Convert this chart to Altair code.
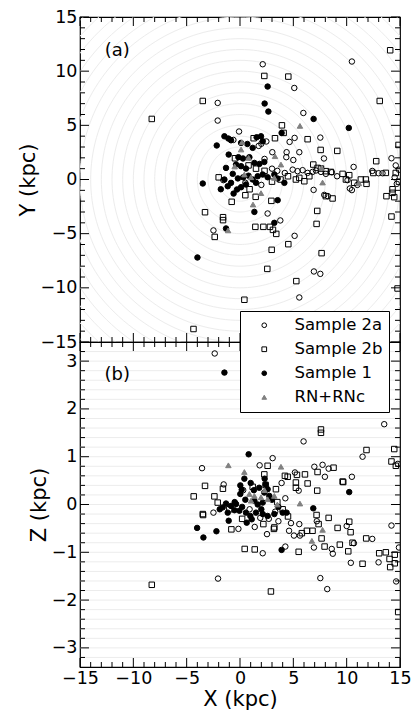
import altair as alt
import numpy as np
import pandas as pd

FONT = "DejaVu Sans"
W, H = 320, 325
XMIN, XMAX = -15, 15
YMIN, YMAX = -15, 15
ZMIN, ZMAX = -3.4, 3.4

SERIES = ["Sample 2a", "Sample 2b", "Sample 1", "RN+RNc"]

# ---------------- panel (a): (X, Y) in kpc ----------------
s2a_xy = [(2.13, 10.64), (10.49, 10.89), (5.09, 8.45), (-2.09, 7.07), (-2.09, 5.44), (5.94, 6.14),
          (-0.09, 4.43), (5.12, 3.84), (7.53, 3.87), (4.65, 3.47), (2.47, 3.51), (2.0, 3.3),
          (1.75, 3.1), (-0.62, 3.65), (5.56, 2.52), (4.37, 2.52), (4.34, 2.06), (3.03, 2.52),
          (7.87, 1.94), (14.2, 1.96), (10.65, 1.16), (12.4, 0.79), (12.99, 0.58), (13.36, 0.58),
          (5.0, 1.8), (4.94, 0.91), (5.4, 0.77), (5.87, 0.86), (6.34, 0.61), (6.8, 0.7),
          (7.12, 0.83), (7.59, 0.7), (8.05, 0.52), (8.61, 0.67), (3.5, 0.8), (4.2, 0.6),
          (3.0, 1.0), (10.08, -0.06), (10.3, -0.83), (10.49, -0.98), (6.9, -0.96), (7.9, -1.42),
          (8.24, -1.54), (14.5, 0.2), (14.7, -0.4), (14.9, 0.9), (14.6, 1.3), (-1.56, -0.06),
          (0.5, -0.3), (2.0, -0.5), (2.59, -3.14), (3.78, -3.78), (-2.49, -4.7), (5.12, -5.2),
          (6.93, -8.49), (7.53, -8.71), (5.56, -10.89), (2.3, 1.9), (9.1, 0.3), (11.0, -0.5)]

s2b_xy = [(14.08, 11.93), (2.28, 9.56), (4.53, 9.5), (-3.49, 7.25), (13.1, 7.25), (-8.27, 5.59),
          (3.93, 5.0), (4.09, 4.3), (1.28, 3.81), (3.28, 3.81), (6.34, 3.72), (7.56, 2.73),
          (9.12, 2.64), (12.77, 1.69), (14.86, 3.19), (-0.47, 1.96), (6.87, 1.38), (0.8, 1.3),
          (-2.0, 0.2), (7.27, 1.07), (7.59, 1.01), (8.05, 0.77), (8.52, 0.7), (9.62, 0.52),
          (10.24, 0.4), (9.93, 0.0), (11.33, 0.0), (11.8, 0.0), (11.86, -0.4), (5.24, 0.0),
          (5.56, 0.15), (6.03, -0.16), (6.5, 0.3), (4.5, 0.3), (3.8, 0.0), (3.0, -0.2),
          (2.3, 0.8), (13.67, 0.61), (14.6, 0.6), (14.3, -0.9), (14.9, -0.2), (8.05, -1.54),
          (8.68, -1.75), (13.73, -1.54), (14.3, -1.23), (14.46, -1.63), (14.2, -3.42), (14.77, -10.06),
          (0.5, -1.45), (1.47, -1.6), (-0.78, -2.06), (2.94, -1.97), (-3.28, -3.02), (-1.59, -3.48),
          (-1.59, -3.75), (-2.37, -5.3), (1.44, -4.37), (2.19, -4.37), (2.81, -4.37), (3.09, -4.65),
          (3.4, -5.02), (4.53, -5.97), (2.97, -6.49), (7.65, -6.8), (7.24, -2.9), (7.18, -4.1),
          (2.56, -8.25), (5.28, -9.38), (0.41, -11.1), (-4.36, -13.8), (0.9, -0.9), (1.5, 1.0),
          (10.7, -0.3), (12.5, 0.6)]

s1_xy = [(2.59, 8.58), (2.31, 7.01), (2.66, 6.27), (6.9, 5.59), (10.2, 4.76), (3.9, 4.3),
         (-1.46, 3.99), (-1.09, 3.78), (-0.84, 3.62), (-2.18, 3.14), (0.1, 3.38), (0.69, 3.28),
         (1.56, 3.9), (1.97, 3.99), (2.13, 3.53), (1.19, 2.92), (-1.06, 2.3), (-0.15, 2.06),
         (0.28, 1.94), (0.88, 2.06), (1.35, 1.53), (1.82, 1.44), (2.28, 1.62), (-0.37, 1.38),
         (0.1, 1.23), (0.56, 1.01), (-1.31, 1.07), (-0.68, 0.52), (-1.46, 0.0), (-1.15, -0.62),
         (-0.84, -0.31), (-0.28, -0.92), (0.1, -0.71), (0.56, -0.46), (1.19, 0.0), (1.66, 0.3),
         (2.13, 0.46), (2.59, 0.21), (3.22, 0.46), (3.53, 0.09), (4.16, -0.31), (0.3, 0.2),
         (0.8, 0.35), (-0.2, 0.1), (1.5, -0.3), (-1.8, -0.9), (-0.6, -1.3), (-3.49, -0.37),
         (1.35, -2.99), (3.53, -1.91), (3.22, -4.0), (-1.31, -4.52), (-3.99, -7.2)]

rn_xy = [(5.62, 4.95), (0.19, 3.44), (0.1, 2.77), (0.81, 2.0), (3.28, 2.15), (3.84, 1.38),
         (0.41, 0.46), (1.03, 0.21), (3.22, 0.15), (7.74, -0.28), (11.15, -0.35), (1.97, -1.26),
         (1.22, -2.31), (-1.12, -4.7), (7.65, 1.07), (-0.5, 1.2)]

# ---------------- panel (b): (X, Z) in kpc ----------------
s2a_xz = [(-2.37, 3.16), (13.52, 1.68), (5.96, 1.32), (3.06, 0.97), (11.49, 1.0), (-3.56, 0.76),
          (1.84, 0.82), (6.97, 0.79), (7.74, 0.83), (8.31, 0.75), (7.96, 0.58), (10.49, 0.58),
          (14.8, 0.85), (-1.53, 0.42), (4.25, 0.13), (5.15, 0.67), (5.5, 0.29), (-2.49, -0.17),
          (-2.06, -1.55), (7.53, -1.54), (8.18, -1.77), (14.64, -1.61), (2.13, -1.02), (4.25, -0.88),
          (8.6, -0.93), (8.7, -1.03), (10.39, -1.22), (12.99, -1.21), (12.4, -0.72), (14.2, -0.44),
          (6.93, -0.9), (-0.15, -0.51), (1.38, -0.47), (2.53, -0.62), (4.78, -0.39), (5.56, -0.41),
          (5.06, -0.65), (5.62, -0.65), (10.68, -0.81), (10.0, -0.45), (3.6, -0.35), (3.3, -0.15),
          (2.7, -0.3), (1.9, -0.28), (0.9, -0.1), (4.6, -0.55), (7.2, -0.35), (14.9, -0.9),
          (0.3, 0.3), (3.9, 0.45)]

s2b_xz = [(7.59, 1.57), (7.59, 1.5), (11.86, 1.14), (14.46, 1.16), (14.2, 0.9), (14.61, 0.81),
          (8.77, 0.77), (2.59, 0.81), (5.34, 0.62), (6.09, 0.63), (6.34, 0.44), (9.68, 0.47),
          (7.24, 0.29), (-3.28, 0.39), (-4.34, 0.17), (-1.6, 0.33), (-3.49, -0.2), (2.28, 0.63),
          (2.4, 0.41), (3.37, 0.32), (4.21, 0.6), (-2.4, 0.17), (-2.09, 0.04), (1.19, 0.37),
          (4.47, 0.58), (5.24, 0.46), (5.24, 0.35), (7.27, 0.68), (9.62, 0.48), (-8.27, -1.68),
          (2.9, -1.82), (0.44, -0.93), (1.38, -0.94), (5.5, -0.99), (-0.81, -0.52), (-3.46, -0.22),
          (2.19, -0.41), (3.18, -0.51), (7.18, -0.22), (7.37, -0.41), (7.65, -0.71), (7.93, -0.88),
          (8.31, -0.28), (9.15, -0.49), (9.36, -0.84), (10.15, -0.98), (10.24, -0.36), (10.37, -0.58),
          (10.55, -0.8), (11.49, -1.24), (11.83, -0.71), (13.05, -1.02), (13.67, -1.0), (14.08, -1.31),
          (14.51, -1.05), (14.02, -1.14), (14.51, -1.23), (14.83, -2.25), (6.27, -0.55), (6.8, -0.55),
          (3.22, -0.48), (4.5, -0.25), (4.0, -0.1), (5.8, -0.6), (-1.0, -0.1), (0.2, -0.3),
          (3.5, 0.05)]

s1_xz = [(-1.46, 2.76), (0.81, 1.05), (10.24, 0.26), (0.41, 0.54), (2.31, 0.54), (0.03, 0.4),
         (0.16, 0.31), (0.03, 0.22), (2.59, 0.32), (2.28, 0.25), (2.75, 0.18), (1.35, 0.08),
         (1.66, 0.0), (2.13, 0.04), (-1.31, 0.02), (-0.84, -0.03), (-0.37, 0.01), (-1.62, -0.06),
         (-1.15, -0.17), (-0.52, -0.12), (-0.06, -0.13), (0.56, -0.17), (0.97, -0.24), (1.5, -0.17),
         (2.13, -0.2), (2.59, -0.24), (3.22, -0.2), (4.0, -0.17), (-4.02, -0.49), (-2.21, -0.56),
         (-3.43, -0.69), (-1.06, -0.34), (0.63, -0.38), (1.1, -0.31), (6.87, -0.08), (3.9, -0.95),
         (4.37, -0.17), (1.3, 0.3), (0.5, 0.1), (-0.5, 0.05), (1.8, 0.35), (3.0, 0.1),
         (2.0, -0.1), (0.2, -0.05), (-1.9, -0.1), (3.6, -0.05), (2.4, 0.42), (1.0, 0.45)]

rn_xz = [(-1.09, 0.82), (0.41, 0.68), (3.84, 0.79), (5.62, 0.02), (0.88, 0.22), (1.35, 0.18),
         (1.97, 0.15), (2.59, 0.11), (3.22, 0.18), (1.03, 0.08), (6.74, -0.76), (7.74, -0.53),
         (2.3, 0.3), (3.5, 0.0)]

# ---------------- tables ----------------
def table(groups):
    rows = []
    for name, pairs in zip(SERIES, groups):
        for a, b in pairs:
            rows.append({"x": a, "y": b, "series": name})
    return pd.DataFrame(rows)

top_df = table([s2a_xy, s2b_xy, s1_xy, rn_xy])
bot_df = table([s2a_xz, s2b_xz, s1_xz, rn_xz])

xs = alt.Scale(domain=[XMIN, XMAX], nice=False, zero=False)
ys_top = alt.Scale(domain=[YMIN, YMAX], nice=False, zero=False)
ys_bot = alt.Scale(domain=[ZMIN, ZMAX], nice=False, zero=False)

shape_scale = alt.Scale(domain=SERIES, range=["circle", "square", "circle", "triangle-up"])
fill_scale = alt.Scale(domain=SERIES, range=["transparent", "transparent", "black", "#808080"])
stroke_scale = alt.Scale(domain=SERIES, range=["black", "black", "black", "#808080"])

MAJ, MIN = 9, 5  # tick lengths (px)


def tick_table(xt, yt, xr, yr, ppx, ppy):
    rows = []
    for v, major in xt:
        L = (MAJ if major else MIN) / ppy
        rows.append(dict(x=v, x2=v, y=yr[0], y2=yr[0] + L))
        rows.append(dict(x=v, x2=v, y=yr[1], y2=yr[1] - L))
    for v, major in yt:
        L = (MAJ if major else MIN) / ppx
        rows.append(dict(x=xr[0], x2=xr[0] + L, y=v, y2=v))
        rows.append(dict(x=xr[1], x2=xr[1] - L, y=v, y2=v))
    return pd.DataFrame(rows)


xticks = [(float(v), v % 5 == 0) for v in range(-15, 16)]
yticks_top = [(float(v), v % 5 == 0) for v in range(-15, 16)]
zticks = [(round(v, 1), abs(round(v, 1) - round(v)) < 1e-6) for v in np.arange(-3.2, 3.21, 0.2)]

ppx = W / (XMAX - XMIN)
ppy_top = H / (YMAX - YMIN)
ppy_bot = H / (ZMAX - ZMIN)

ticks_top = tick_table(xticks, yticks_top, (XMIN, XMAX), (YMIN, YMAX), ppx, ppy_top)
ticks_bot = tick_table(xticks, zticks, (XMIN, XMAX), (ZMIN, ZMAX), ppx, ppy_bot)

# background rings (top) and horizontal guide lines (bottom)
ring_rows = []
for r in range(1, 23):
    for i, t in enumerate(np.linspace(0, 2 * np.pi, 181)):
        ring_rows.append({"r": r, "i": i, "x": r * np.cos(t), "y": r * np.sin(t)})
rings_df = pd.DataFrame(ring_rows)
zvals = [round(v, 1) for v in np.arange(-3.2, 3.21, 0.2)]
zlines_df = pd.DataFrame({"x": [XMIN] * len(zvals), "x2": [XMAX] * len(zvals), "y": zvals})

# ---------------- axes ----------------
common = dict(format="d", ticks=False, tickSize=0, domain=False, grid=False,
              labelOverlap=False, labelFlush=False)
yaxis_top = alt.Axis(values=list(range(-15, 16, 5)), labelPadding=3, title="Y (kpc)",
                     titlePadding=2, **common)
yaxis_bot = alt.Axis(values=list(range(-3, 4)), labelPadding=3, title="Z (kpc)",
                     titlePadding=2, **common)
xaxis_bot = alt.Axis(values=list(range(-15, 16, 5)), labelPadding=2, title="X (kpc)",
                     titlePadding=2, **common)

legend = alt.Legend(title=None, orient="none", legendX=160, legendY=294, padding=6,
                    strokeColor="black", fillColor="white", symbolOffset=10, labelOffset=22,
                    labelFontSize=16.5, labelFont=FONT, labelColor="black", rowPadding=7,
                    symbolSize=22, symbolStrokeWidth=1, cornerRadius=0)


def panel(pts, ticks, ys, xaxis, yaxis, bg, label, label_xy, legend_):
    X = lambda f: alt.X(f, scale=xs, axis=xaxis)
    Y = lambda f: alt.Y(f, scale=ys, axis=yaxis)
    if bg == "rings":
        back = alt.Chart(rings_df).mark_line(color="#ececec", strokeWidth=1, clip=True).encode(
            x=X("x:Q"), y=Y("y:Q"), detail="r:N", order="i:Q")
    else:
        back = alt.Chart(zlines_df).mark_rule(color="#ececec", strokeWidth=1).encode(
            x=X("x:Q"), x2="x2:Q", y=Y("y:Q"))
    tk = alt.Chart(ticks).mark_rule(color="black", strokeWidth=1).encode(
        x=X("x:Q"), x2="x2:Q", y=Y("y:Q"), y2="y2:Q")
    lab = alt.Chart(pd.DataFrame({"x": [label_xy[0]], "y": [label_xy[1]], "t": [label]})).mark_text(
        font=FONT, fontSize=18, color="black", align="center", baseline="middle").encode(
        x=X("x:Q"), y=Y("y:Q"), text="t:N")
    p = alt.Chart(pts).mark_point(size=30, strokeWidth=1, opacity=1, clip=True).encode(
        x=X("x:Q"), y=Y("y:Q"),
        shape=alt.Shape("series:N", scale=shape_scale, legend=legend_),
        fill=alt.Fill("series:N", scale=fill_scale, legend=legend_),
        stroke=alt.Stroke("series:N", scale=stroke_scale, legend=legend_),
    )
    return alt.layer(back, tk, lab, p).properties(width=W, height=H)


top = panel(top_df, ticks_top, ys_top, None, yaxis_top, "rings", "(a)", (-11.5, 11.9), legend)
bottom = panel(bot_df, ticks_bot, ys_bot, xaxis_bot, yaxis_bot, "lines", "(b)", (-11.5, 2.7), None)

chart = alt.vconcat(top, bottom, spacing=0, bounds="flush").resolve_scale(
    shape="shared", fill="shared", stroke="shared"
).properties(
    padding={"left": 16, "top": 7, "right": 5, "bottom": 0}, background="white"
).configure_view(stroke="black", strokeWidth=1.2).configure_axis(
    labelFont=FONT, labelFontSize=17.5, labelColor="black",
    titleFont=FONT, titleFontSize=21, titleFontWeight="normal", titleColor="black"
)

chart.save("out.html", embed_options={"renderer": "svg", "actions": False})
